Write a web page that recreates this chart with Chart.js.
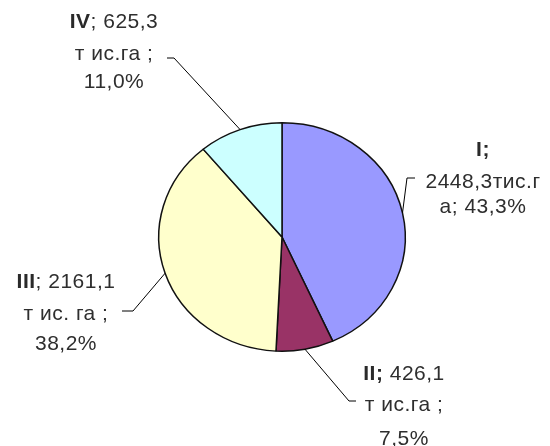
<!DOCTYPE html>
<html>
<head>
<meta charset="utf-8">
<script src="https://cdn.jsdelivr.net/npm/chart.js@4/dist/chart.umd.min.js"></script>
<style>
  html, body { margin: 0; padding: 0; background: #fff; }
  #wrap { width: 550px; height: 446px; }
</style>
</head>
<body>
<div id="wrap"><canvas id="pie"></canvas></div>
<script>
// Areas by zone, thousand ha
const categories = ['I', 'II', 'III', 'IV'];
const areas = [2448.3, 426.1, 2161.1, 625.3];
const colors = ['#9999ff', '#993366', '#ffffcc', '#ccffff'];

// label rows as [bold part, normal part]
const labelRows = [
    [['I;', ''], ['', '2448,3тис.г'], ['', 'а; 43,3%']],
    [['II;', ' 426,1'], ['', 'т ис.га ;'], ['', '7,5%']],
    [['III', '; 2161,1'], ['', 'т ис. га ;'], ['', '38,2%']],
    [['IV', '; 625,3'], ['', 'т ис.га ;'], ['', '11,0%']]
];

// layout: label centre x, row baselines, leader elbow [x, y, tickEndX]
const labelX = [483, 404, 66, 114];
const labelBaselines = [[156, 188, 213], [380, 411, 445], [288, 320, 350], [28, 60, 88]];
const elbows = [[407, 178, 415], [349, 401, 356], [133, 311, 122], [174, 58, 167]];

const squash = 0.927; // the original pie is a slightly flattened ellipse

const ellipsePlugin = {
    id: 'ellipse',
    beforeDatasetsDraw(chart) {
        const arc = chart.getDatasetMeta(0).data[0];
        const ctx = chart.ctx;
        ctx.save();
        ctx.translate(0, arc.y);
        ctx.scale(1, squash);
        ctx.translate(0, -arc.y);
    },
    afterDatasetsDraw(chart) {
        chart.ctx.restore();
    }
};

const leaderPlugin = {
    id: 'leaders',
    afterDraw(chart) {
        const ctx = chart.ctx;
        chart.getDatasetMeta(0).data.forEach((arc, i) => {
            const mid = (arc.startAngle + arc.endAngle) / 2;
            const sx = arc.x + Math.cos(mid) * arc.outerRadius;
            const sy = arc.y + Math.sin(mid) * arc.outerRadius * squash;
            const e = elbows[i];

            ctx.save();
            ctx.beginPath();
            ctx.moveTo(sx, sy);
            ctx.lineTo(e[0], e[1]);
            ctx.lineTo(e[2], e[1]);
            ctx.strokeStyle = '#000';
            ctx.lineWidth = 1;
            ctx.stroke();

            // text rows
            ctx.textBaseline = 'alphabetic';
            ctx.textAlign = 'left';
            ctx.letterSpacing = '0.5px';
            labelRows[i].forEach((row, r) => {
                const boldFont = 'bold 21px "Liberation Sans", Arial, sans-serif';
                const normFont = '21px "Liberation Sans", Arial, sans-serif';
                ctx.font = boldFont;
                const wb = row[0] ? ctx.measureText(row[0]).width : 0;
                ctx.font = normFont;
                const wn = row[1] ? ctx.measureText(row[1]).width : 0;
                let x = labelX[i] - (wb + wn) / 2;
                const y = labelBaselines[i][r];
                if (row[0]) {
                    ctx.font = boldFont;
                    ctx.fillStyle = '#2a2a2a';
                    ctx.fillText(row[0], x, y);
                    x += wb;
                }
                if (row[1]) {
                    ctx.font = normFont;
                    ctx.fillStyle = '#2e2e2e';
                    ctx.fillText(row[1], x, y);
                }
            });
            ctx.restore();
        });
    }
};

new Chart(document.getElementById('pie'), {
    type: 'pie',
    data: {
        labels: categories,
        datasets: [{
            data: areas,
            backgroundColor: colors,
            borderColor: '#111',
            borderWidth: 1.5
        }]
    },
    options: {
        responsive: true,
        maintainAspectRatio: false,
        animation: false,
        layout: {
            padding: { left: 158, right: 144, top: 113, bottom: 85 }
        },
        plugins: {
            legend: { display: false },
            tooltip: { enabled: false }
        }
    },
    plugins: [ellipsePlugin, leaderPlugin]
});
</script>
</body>
</html>
